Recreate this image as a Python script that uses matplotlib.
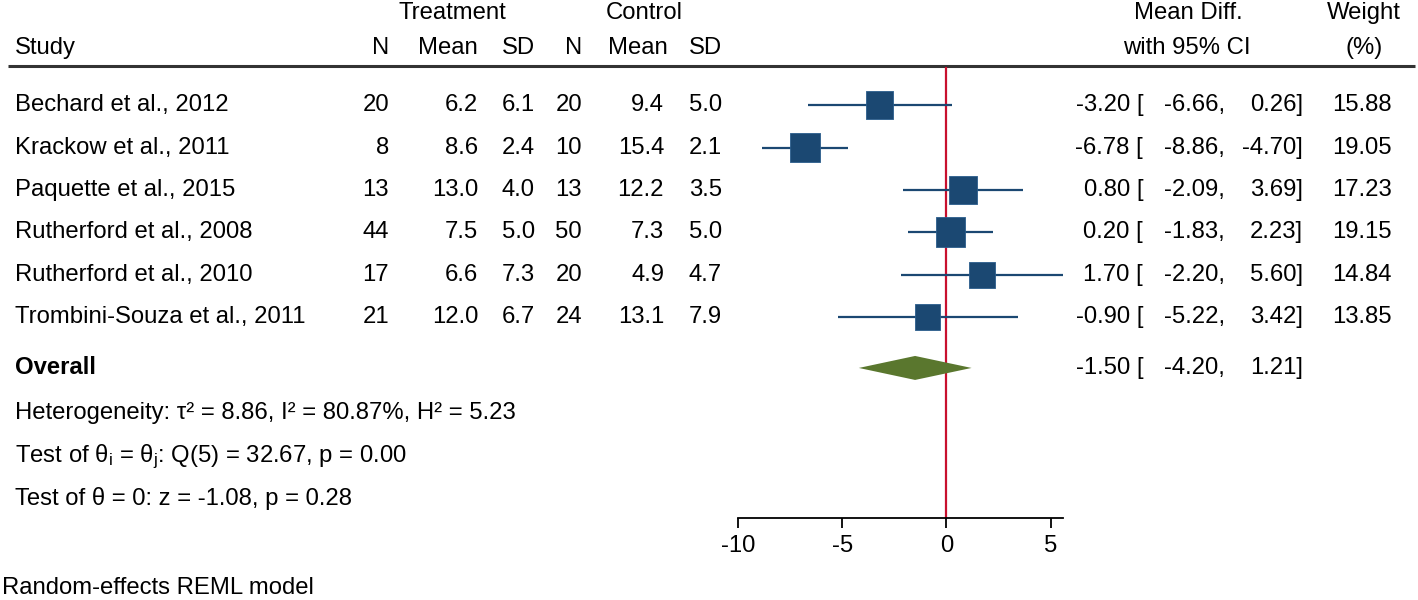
import numpy as np
import matplotlib
matplotlib.use("Agg")
import matplotlib.pyplot as plt
from matplotlib import transforms

plt.rcParams['font.family'] = ['Liberation Sans', 'DejaVu Sans']
plt.rcParams['mathtext.fontset'] = 'custom'
plt.rcParams['mathtext.rm'] = 'Liberation Sans'
plt.rcParams['mathtext.it'] = 'Liberation Sans'

# === Données ===
studies = ["Bechard et al., 2012", "Krackow et al., 2011", "Paquette et al., 2015",
           "Rutherford et al., 2008", "Rutherford et al., 2010", "Trombini-Souza et al., 2011"]
n_treat = [20, 8, 13, 44, 17, 21]
mean_treat = [6.2, 8.6, 13.0, 7.5, 6.6, 12.0]
sd_treat = [6.1, 2.4, 4.0, 5.0, 7.3, 6.7]
n_ctrl = [20, 10, 13, 50, 20, 24]
mean_ctrl = [9.4, 15.4, 12.2, 7.3, 4.9, 13.1]
sd_ctrl = [5.0, 2.1, 3.5, 5.0, 4.7, 7.9]
md = [-3.20, -6.78, 0.80, 0.20, 1.70, -0.90]
ci_low = [-6.66, -8.86, -2.09, -1.83, -2.20, -5.22]
ci_high = [0.26, -4.70, 3.69, 2.23, 5.60, 3.42]
weights = [15.88, 19.05, 17.23, 19.15, 14.84, 13.85]
overall = (-1.50, -4.20, 1.21)
xticks = [-10, -5, 0, 5]

W, H = 1418, 600
FS = 17.2
fig = plt.figure(figsize=(W / 100, H / 100), dpi=100)

# axe plein cadre pour le tableau (coordonnées en pixels)
tab = fig.add_axes([0, 0, 1, 1], zorder=0)
tab.set_xlim(0, W)
tab.set_ylim(H, 0)
tab.axis('off')

# axe du forest plot
ax = fig.add_axes([738 / W, 1 - 518 / H, (1063 - 738) / W, (518 - 67) / H], zorder=1)
ax.patch.set_alpha(0)
ax.set_xlim(-10, 5.6)
ax.set_ylim(9.74, -0.9)
for s in ['top', 'right', 'left']:
    ax.spines[s].set_visible(False)
ax.spines['bottom'].set_linewidth(1.3)
ax.set_yticks([])
ax.set_xticks(xticks)
ax.set_xticklabels([str(t) for t in xticks], fontsize=FS)
ax.tick_params(axis='x', length=7, width=1.3, pad=5)

rows = np.arange(len(studies))
y_overall = 6.2

ax.axvline(0, color='#c8102e', lw=1.6, zorder=1)
ax.hlines(rows, ci_low, ci_high, color='#1b4872', lw=1.6, zorder=2)
side_pt = 6.85 * np.sqrt(weights) * 0.72
ax.scatter(md, rows, marker='s', s=side_pt ** 2, color='#1b4872',
           edgecolor='#2a5d8c', linewidth=0.6, zorder=3)

# losange global
dh = 12 / 42.4
ax.fill([overall[1], overall[0], overall[2], overall[0]],
        [y_overall, y_overall - dh, y_overall, y_overall + dh],
        color='#5a772e', zorder=3, lw=0)

tr = transforms.blended_transform_factory(tab.transData, ax.transData)

def txt(x, y, s, ha='right', **kw):
    tab.text(x, y, s, transform=tr, ha=ha, va='center', fontsize=FS, **kw)

# en-têtes
txt(452, -2.18, "Treatment", ha='center')
txt(644, -2.18, "Control", ha='center')
txt(1188, -2.18, "Mean Diff.", ha='center')
txt(1364, -2.18, "Weight", ha='center')
txt(15, -1.35, "Study", ha='left')
for x, s in [(389, "N"), (478, "Mean"), (535, "SD"), (582, "N"), (668, "Mean"), (722, "SD")]:
    txt(x, -1.35, s)
txt(1187, -1.35, "with 95% CI", ha='center')
txt(1364, -1.35, "(%)", ha='center')
tab.plot([8, 1415], [66, 66], color='#333333', lw=2.2, solid_capstyle='butt')

for i in rows:
    txt(15, i, studies[i], ha='left')
    txt(389, i, f"{n_treat[i]}")
    txt(478, i, f"{mean_treat[i]:.1f}")
    txt(535, i, f"{sd_treat[i]:.1f}")
    txt(582, i, f"{n_ctrl[i]}")
    txt(664, i, f"{mean_ctrl[i]:.1f}")
    txt(722, i, f"{sd_ctrl[i]:.1f}")
    txt(1143, i, f"{md[i]:.2f} [")
    txt(1225, i, f"{ci_low[i]:.2f},")
    txt(1303, i, f"{ci_high[i]:.2f}]")
    txt(1392, i, f"{weights[i]:.2f}")

txt(15, y_overall, "Overall", ha='left', fontweight='bold')
txt(1143, y_overall, f"{overall[0]:.2f} [")
txt(1225, y_overall, f"{overall[1]:.2f},")
txt(1303, y_overall, f"{overall[2]:.2f}]")

txt(15, 7.26, "Heterogeneity: τ² = 8.86, I² = 80.87%, H² = 5.23", ha='left')
txt(15, 8.3, r"Test of $\mathregular{θ_i}$ = $\mathregular{θ_j}$: Q(5) = 32.67, p = 0.00", ha='left')
txt(15, 9.27, "Test of θ = 0: z = -1.08, p = 0.28", ha='left')
txt(2, 11.39, "Random-effects REML model", ha='left')

fig.savefig("out.png", dpi=100)
